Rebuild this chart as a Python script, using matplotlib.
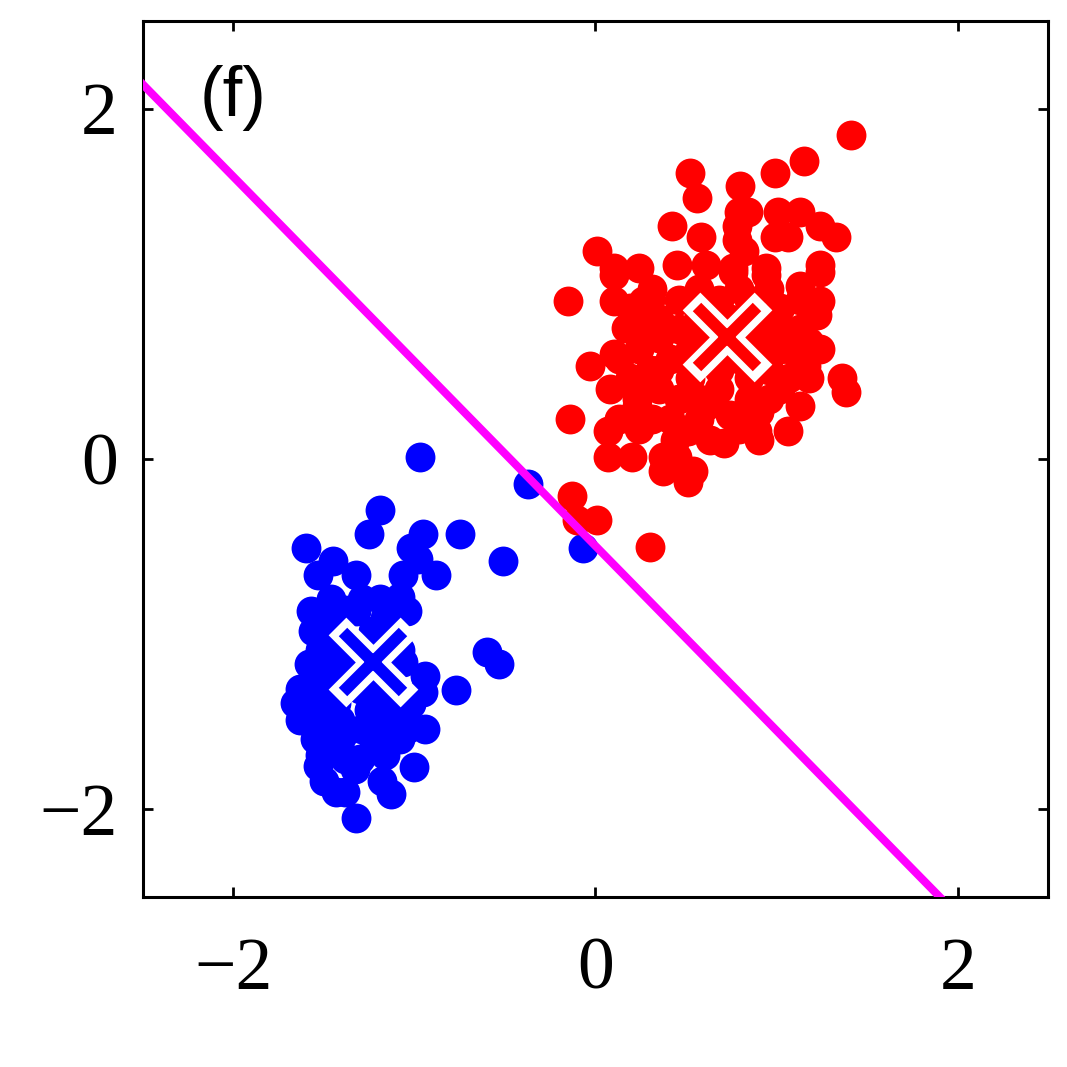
import numpy as np
import matplotlib
matplotlib.use("Agg")
import matplotlib.pyplot as plt

# Blue cluster points (x, y)
blue_x = [-0.97, -0.37, -1.19, -1.25, -0.95, -0.75, -1.60, -1.02, -1.45, -0.51,
          -0.07, -0.98, -1.53, -1.32, -1.06, -0.88, -1.46, -1.57, -1.29, -1.19,
          -1.08, -1.04, -1.52, -1.32, -0.60, -0.53, -0.77, -1.66, -0.94, -0.95,
          -1.54, -1.41, -1.06, -1.48, -0.94, -1.04, -1.52, -1.53, -1.16, -1.00,
          -1.50, -1.38, -1.18, -1.13, -1.32, -1.43, -1.29, -1.15, -1.40, -1.43,
          -1.56, -1.48, -1.23, -1.41, -1.30, -1.08, -1.36, -1.19, -1.11, -1.25,
          -1.47, -1.33, -1.38, -1.63, -1.58, -1.22, -1.30, -1.41,
          -1.47, -1.38, -1.52, -1.58, -1.47, -1.52, -1.55, -1.30, -1.08, -1.02,
          -1.41, -1.16, -1.63, -1.13]
blue_y = [0.01, -0.14, -0.29, -0.43, -0.43, -0.43, -0.51, -0.51, -0.58, -0.58,
          -0.51, -0.57, -0.66, -0.66, -0.66, -0.66, -0.80, -0.87, -0.80, -0.80,
          -0.79, -0.87, -0.95, -0.87, -1.10, -1.17, -1.32, -1.39, -1.24, -1.33,
          -1.24, -1.16, -1.16, -1.47, -1.54, -1.54, -1.69, -1.75, -1.69, -1.76,
          -1.84, -1.90, -1.84, -1.91, -2.05, -1.90, -1.54, -1.54, -1.58, -1.39,
          -0.98, -1.03, -0.98, -1.03, -1.09, -1.09, -1.26, -1.31, -1.37, -1.43,
          -1.31, -1.77, -1.71, -1.49, -1.37, -1.63, -1.31, -1.49,
          -0.91, -0.86, -1.09, -1.17, -1.17, -1.49, -1.60, -1.71, -1.60, -1.40,
          -1.66, -0.91, -1.31, -1.46]

# Red cluster points (x, y)
red_x = [1.41, 1.15, 0.99, 0.52, 0.80, 0.56, 0.42, 0.58, 0.79, 0.84,
         0.78, 1.01, 1.13, 1.24, 1.33, 0.99, 1.06, 0.78, 0.82, 0.01,
         0.45, 0.61, 0.76, 0.94, 1.24, 0.10, -0.15, 0.10, 0.10, 0.17,
         0.10, -0.03, 0.31, 0.26, 0.30, 1.36, 1.38, 1.24, 1.22, 1.24,
         1.18, 1.16, 0.76, 0.94, 1.13, 0.23, -0.14, 0.07, 0.07, 0.20,
         0.37, 0.45, 0.37, 0.54, 0.51, 0.51, 0.71, 0.89, 1.06, 0.31,
         0.23, 0.61, 1.13, -0.13, -0.10, 0.01, 0.30, 0.74, 0.90, 0.35,
         0.46, 0.57, 0.68, 0.85, 1.02, 1.13, 1.07, 0.96, 0.85, 0.68,
         0.52, 0.41, 0.35, 0.57, 0.90, 0.79, 0.57, 0.46, 0.85, 0.24,
         0.19, 1.02, 1.18, 1.24, 0.35, 0.08, 0.24, 0.74, 0.90, 0.57,
         0.90, 0.44,
         0.24, 0.57, 0.30, 0.19, 0.46, 0.68, 1.02, 0.96, 0.79, 1.13,
         1.07, 0.96, 0.57, 0.41, 0.24, 0.13, 0.24, 0.35, 0.68, 0.90,
         1.13, 1.02, 0.63, 0.79, 0.52, 0.79, 0.13]
red_y = [1.85, 1.70, 1.63, 1.63, 1.56, 1.49, 1.33, 1.27, 1.41, 1.41,
         1.33, 1.41, 1.41, 1.33, 1.27, 1.27, 1.27, 1.25, 1.19, 1.19,
         1.11, 1.11, 1.09, 1.09, 1.11, 1.09, 0.90, 1.05, 0.90, 0.75,
         0.60, 0.53, 0.97, 0.90, 0.51, 0.46, 0.38, 1.07, 0.82, 0.90,
         0.67, 0.53, 1.07, 1.05, 0.99, 0.34, 0.23, 0.16, 0.01, 0.01,
         0.01, 0.01, -0.07, -0.07, -0.13, 0.16, 0.09, 0.16, 0.16, 0.23,
         0.30, 0.30, 0.30, -0.21, -0.35, -0.35, -0.50, 0.25, 0.27, 0.80,
         0.91, 0.97, 0.91, 0.91, 0.86, 0.74, 0.63, 0.51, 0.46, 0.40,
         0.46, 0.57, 0.69, 0.69, 0.69, 0.57, 0.57, 0.34, 0.34, 0.63,
         0.46, 0.40, 0.46, 0.63, 0.40, 0.40, 0.17, 0.80, 0.80, 0.23,
         0.11, 0.11,
         1.09, 0.83, 0.91, 0.86, 0.74, 0.74, 0.74, 0.97, 0.97, 0.91,
         0.46, 0.34, 0.34, 0.23, 0.40, 0.57, 0.74, 0.51, 0.51, 0.57,
         0.57, 0.63, 0.11, 0.17, 0.63, 0.69, 0.23]

# Cluster centres
centre_x = [-1.23, 0.728]
centre_y = [-1.16, 0.697]

ticks = [-2, 0, 2]
tick_labels = ['\u22122', '0', '2']
panel_label = '(f)'

fig = plt.figure(figsize=(10.67, 10.67), dpi=100)
ax = fig.add_axes([0.1336, 0.1593, 0.849, 0.821])

ax.plot(blue_x, blue_y, 'o', color='#0000ff', markersize=21.5, markeredgewidth=0, zorder=2)
ax.plot(red_x, red_y, 'o', color='#ff0000', markersize=21.5, markeredgewidth=0, zorder=2)

# Decision boundary: perpendicular bisector of the two centres
mx = (centre_x[0] + centre_x[1]) / 2
my = (centre_y[0] + centre_y[1]) / 2
dx = centre_x[1] - centre_x[0]
dy = centre_y[1] - centre_y[0]
ax.axline((mx, my), slope=-dx / dy, color='#ff00ff', linewidth=5.8, zorder=3)

for cx, cy, col in zip(centre_x, centre_y, ['#0000ff', '#ff0000']):
    ax.plot([cx], [cy], marker='x', color='white', markersize=52,
            markeredgewidth=18, linestyle='none', zorder=4)
    ax.plot([cx], [cy], marker='x', color=col, markersize=43,
            markeredgewidth=8.6, linestyle='none', zorder=5)

ax.set_xlim(-2.5, 2.5)
ax.set_ylim(-2.5, 2.5)
ax.set_xticks(ticks)
ax.set_yticks(ticks)
ax.set_xticklabels(tick_labels)
ax.set_yticklabels(tick_labels)
for lab in ax.get_xticklabels() + ax.get_yticklabels():
    lab.set_family('Liberation Serif')
    lab.set_fontsize(53)
ax.tick_params(direction='in', length=7, width=2, top=True, right=True)
ax.tick_params(axis='x', pad=29)
ax.tick_params(axis='y', pad=18)
for s in ax.spines.values():
    s.set_linewidth(2.2)

ax.text(0.0635, 0.912, panel_label, transform=ax.transAxes, family='Liberation Sans',
        fontsize=51, va='center', ha='left')

fig.savefig('out.png', dpi=100)
